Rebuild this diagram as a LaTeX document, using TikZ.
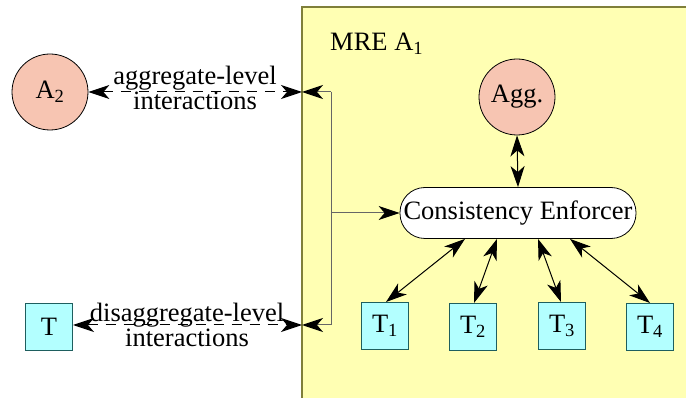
\documentclass[tikz,border=0pt]{standalone}
\usepackage{fontspec}
\setmainfont{Liberation Serif}
\usetikzlibrary{arrows.meta}
\definecolor{mrefill}{HTML}{FFFFB3}
\definecolor{mreline}{HTML}{7F7F3A}
\definecolor{aggfill}{HTML}{F7C5B2}
\definecolor{tfill}{HTML}{B3FFFF}
\definecolor{tline}{HTML}{1E5E5E}
\definecolor{wire}{HTML}{666666}

\begin{document}
\begin{tikzpicture}[x=1pt,y=-1pt,
  font=\fontsize{26.5}{22}\selectfont,
  head/.tip={Stealth[length=21pt,width=14pt,inset=6pt,color=black]},
  onehead/.style={-head,line width=1pt},
  twohead/.style={head-head,line width=1pt},
  dashline/.style={dash pattern=on 10pt off 8pt},
  aggnode/.style={circle,draw=black,fill=aggfill,minimum size=76pt,inner sep=0pt,line width=0.8pt},
  tbox/.style={rectangle,draw=tline,fill=tfill,minimum size=47pt,inner sep=0pt,line width=1pt},
  enforcer/.style={rectangle,rounded corners=25pt,draw=black,fill=white,minimum width=236pt,minimum height=51pt,inner sep=0pt,line width=0.8pt},
  label/.style={align=center,inner sep=0pt}
]
\useasboundingbox (0,0) rectangle (686,398);
\clip (0,0) rectangle (686,398);

% the MRE region
\draw[mreline,fill=mrefill,line width=2pt] (302,7) rectangle (700,410);
\node[anchor=west,inner sep=0pt] (mre) at (330,44) {MRE A\textsubscript{1}};

% nodes inside the MRE
\node[aggnode] (agg) at (517,97) {Agg.};
\node[enforcer] (ce) at (518,213) {Consistency Enforcer};
\node[tbox] (t1) at (385,326) {T\textsubscript{1}};
\node[tbox] (t2) at (473,327) {T\textsubscript{2}};
\node[tbox] (t3) at (562,326) {T\textsubscript{3}};
\node[tbox] (t4) at (650,327) {T\textsubscript{4}};

% outside peers
\node[aggnode] (a2) at (50,92) {A\textsubscript{2}};
\node[tbox] (t) at (49,327) {T};

% boundary points and the internal bracket
\coordinate (pa) at (302,92);
\coordinate (pt) at (302,325);
\coordinate (ja) at (331,92);
\coordinate (jt) at (331,325);
\coordinate (jm) at (331,213);

\draw[wire,line width=1pt] (ja) -- (jt);
\draw[wire,onehead] (ja) -- (pa);
\draw[wire,onehead] (jt) -- (pt);
\draw[wire,onehead] (jm) -- (ce.west);

% interactions with peers
\draw[twohead,dashline] (a2.east) -- (pa);
\draw[twohead,dashline] (t.east |- pt) -- (pt);
\node[label] (lagg) at (195,88) {aggregate-level\\interactions};
\node[label] (ldis) at (187,325) {disaggregate-level\\interactions};

% links to the enforcer
\draw[twohead] (agg.south) -- (ce.north);
\draw[twohead] ([xshift=-53pt]ce.south) -- ([xshift=1pt]t1.north);
\draw[twohead] ([xshift=-21pt]ce.south) -- ([xshift=1pt]t2.north);
\draw[twohead] ([xshift=20pt]ce.south) -- ([xshift=-1pt]t3.north);
\draw[twohead] ([xshift=52pt]ce.south) -- (t4.north);
\end{tikzpicture}
\end{document}
